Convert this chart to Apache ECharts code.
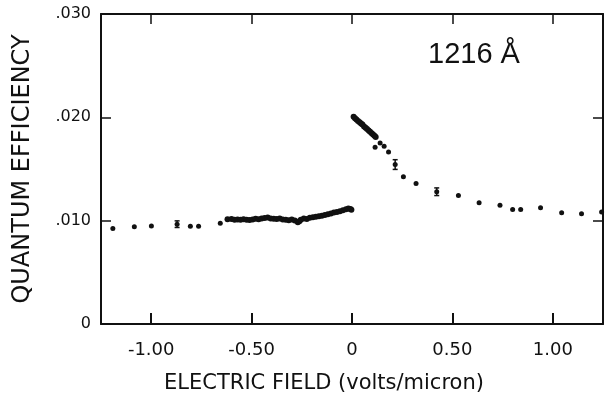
<!DOCTYPE html>
<html>
<head>
<meta charset="utf-8">
<script src="https://cdn.jsdelivr.net/npm/echarts@6/dist/echarts.min.js"></script>
<style>
  html, body { margin: 0; padding: 0; background: #fff; }
  #chart { width: 605px; height: 399px; }
</style>
</head>
<body>
<div id="chart"></div>
<script>
// field ticks (volts/micron)
let xTicks = [-1.0, -0.5, 0, 0.5, 1.0];
let xTickLabels = ["-1.00", "-0.50", "0", "0.50", "1.00"];
let yTickLabels = { 0: "0", 0.01: ".010", 0.02: ".020", 0.03: ".030" };

// negative field, sparse points
let negSparse = [
  [-1.191, 0.00923], [-1.084, 0.00942], [-0.999, 0.00948],
  [-0.805, 0.00945], [-0.764, 0.00945], [-0.656, 0.00974]
];
// negative field, dense band
let negBand = [
  [-0.62, 0.01013], [-0.60, 0.01015], [-0.585, 0.0101], [-0.57, 0.01012],
  [-0.555, 0.01008], [-0.54, 0.01014], [-0.525, 0.0101], [-0.51, 0.01006],
  [-0.495, 0.01012], [-0.48, 0.01018], [-0.465, 0.01014], [-0.45, 0.01022],
  [-0.435, 0.01025], [-0.42, 0.0103], [-0.405, 0.01022], [-0.39, 0.01018],
  [-0.375, 0.01015], [-0.36, 0.0102], [-0.345, 0.01012], [-0.33, 0.0101],
  [-0.315, 0.01005], [-0.30, 0.01012], [-0.285, 0.01002], [-0.27, 0.00985],
  [-0.262, 0.00995], [-0.255, 0.0101], [-0.24, 0.01022], [-0.225, 0.01015],
  [-0.21, 0.01028], [-0.195, 0.01032], [-0.18, 0.01038], [-0.165, 0.01042],
  [-0.15, 0.01048], [-0.135, 0.01055], [-0.12, 0.01062], [-0.105, 0.0107],
  [-0.09, 0.01078], [-0.075, 0.01085], [-0.06, 0.01092], [-0.045, 0.011],
  [-0.03, 0.0111], [-0.018, 0.01118], [-0.008, 0.01112], [-0.003, 0.01105]
];
// positive field, steep part
let posSteep = [
  [0.008, 0.02005], [0.015, 0.0199], [0.022, 0.01978], [0.03, 0.01965],
  [0.038, 0.01952], [0.045, 0.0194], [0.052, 0.0193], [0.06, 0.01912],
  [0.068, 0.019], [0.075, 0.01888], [0.083, 0.01872], [0.09, 0.0186],
  [0.098, 0.01845], [0.105, 0.01835], [0.112, 0.01822], [0.118, 0.0181]
];
// positive field, sparse points
let posSparse = [
  [0.115, 0.0171], [0.14, 0.01752], [0.16, 0.0172], [0.182, 0.01665],
  [0.256, 0.01424], [0.319, 0.0136], [0.53, 0.01244], [0.633, 0.01173],
  [0.737, 0.0115], [0.8, 0.01109], [0.84, 0.01109], [0.939, 0.01125],
  [1.044, 0.01077], [1.143, 0.01067], [1.243, 0.01083]
];
// points with error bars: x, y, low, high
let errPoints = [
  [-0.871, 0.00966, 0.00934, 0.00998],
  [0.215, 0.01543, 0.01496, 0.0159],
  [0.422, 0.0128, 0.01243, 0.01317]
];

let ink = "#111";
let fontAxis = "DejaVu Sans";

let chart = echarts.init(document.getElementById("chart"), null, { renderer: "canvas" });

// 误差棒
function renderErr(params, api) {
  let top = api.coord([api.value(0), api.value(3)]);
  let bot = api.coord([api.value(0), api.value(2)]);
  let mid = api.coord([api.value(0), api.value(1)]);
  let cap = 2.5;
  let st = { stroke: ink, lineWidth: 1.5 };
  return {
    type: "group",
    children: [
      { type: "line", shape: { x1: top[0], y1: top[1], x2: bot[0], y2: bot[1] }, style: st },
      { type: "line", shape: { x1: top[0] - cap, y1: top[1], x2: top[0] + cap, y2: top[1] }, style: st },
      { type: "line", shape: { x1: bot[0] - cap, y1: bot[1], x2: bot[0] + cap, y2: bot[1] }, style: st },
      { type: "circle", shape: { cx: mid[0], cy: mid[1], r: 2.5 }, style: { fill: ink } }
    ]
  };
}

let axisLineStyle = { color: ink, width: 2 };
let dotStyle = { color: ink, opacity: 1 };

let option = {
  backgroundColor: "#fff",
  animation: false,
  grid: { left: 101, top: 14, right: 2, bottom: 74, containLabel: false },
  xAxis: [
    {
      type: "value",
      min: -1.25,
      max: 1.25,
      position: "bottom",
      splitLine: { show: false },
      axisLine: { onZero: false, lineStyle: axisLineStyle },
      axisTick: { inside: true, length: 11, customValues: xTicks, lineStyle: { color: ink, width: 2 } },
      axisLabel: {
        customValues: xTicks,
        margin: 17,
        fontFamily: fontAxis,
        fontSize: 18,
        color: ink,
        formatter: function (v) {
          let i = xTicks.indexOf(v);
          return i >= 0 ? xTickLabels[i] : "";
        }
      },
      name: "ELECTRIC FIELD (volts/micron)",
      nameLocation: "middle",
      nameGap: 49,
      nameTextStyle: { fontFamily: fontAxis, fontSize: 21, color: ink, padding: [0, 56, 0, 0] }
    },
    {
      type: "value",
      min: -1.25,
      max: 1.25,
      position: "top",
      splitLine: { show: false },
      axisLine: { onZero: false, lineStyle: axisLineStyle },
      axisTick: { inside: true, length: 10, customValues: xTicks, lineStyle: { color: ink, width: 1.5 } },
      axisLabel: { show: false }
    }
  ],
  yAxis: [
    {
      type: "value",
      min: 0,
      max: 0.03,
      interval: 0.01,
      splitLine: { show: false },
      axisLine: { onZero: false, lineStyle: axisLineStyle },
      axisTick: { inside: true, length: 10, lineStyle: { color: ink, width: 1.5 } },
      axisLabel: {
        margin: 10,
        fontFamily: fontAxis,
        fontSize: 16,
        color: ink,
        formatter: function (v) {
          return yTickLabels[Math.round(v * 100) / 100];
        }
      },
      name: "QUANTUM EFFICIENCY",
      nameLocation: "middle",
      nameGap: 66,
      nameTextStyle: { fontFamily: fontAxis, fontSize: 24, color: ink }
    },
    {
      type: "value",
      min: 0,
      max: 0.03,
      interval: 0.01,
      position: "right",
      splitLine: { show: false },
      axisLine: { onZero: false, lineStyle: axisLineStyle },
      axisTick: { inside: true, length: 10, lineStyle: { color: ink, width: 1.5 } },
      axisLabel: { show: false }
    }
  ],
  graphic: [
    {
      type: "text",
      left: 428,
      top: 40,
      style: { text: "1216 Å", font: "29px 'Liberation Sans'", fill: ink }
    }
  ],
  series: [
    { name: "neg-sparse", type: "scatter", data: negSparse, symbolSize: 5, itemStyle: dotStyle },
    { name: "neg-band", type: "scatter", data: negBand, symbolSize: 6, itemStyle: dotStyle },
    { name: "pos-steep", type: "scatter", data: posSteep, symbolSize: 6, itemStyle: dotStyle },
    { name: "pos-sparse", type: "scatter", data: posSparse, symbolSize: 5, itemStyle: dotStyle },
    {
      name: "err",
      type: "custom",
      renderItem: renderErr,
      data: errPoints,
      encode: { x: 0, y: 1 },
      z: 3
    }
  ]
};

chart.setOption(option);
</script>
</body>
</html>
